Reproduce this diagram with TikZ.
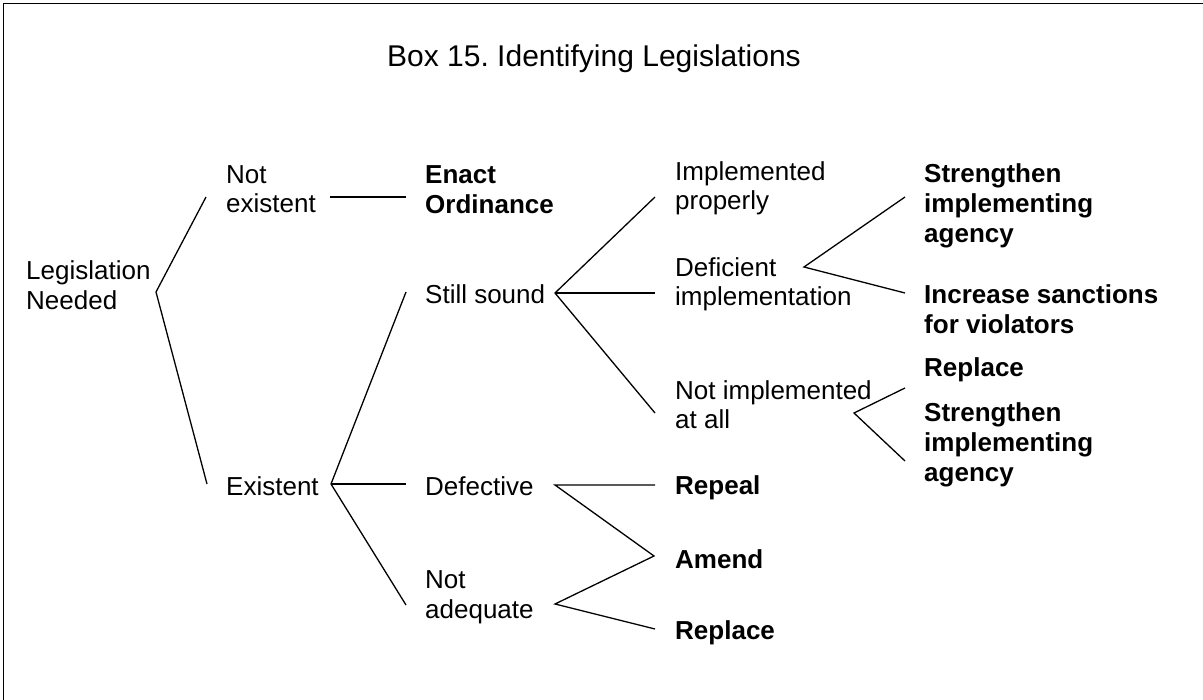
\documentclass[tikz,border=0pt]{standalone}
\usepackage{fontspec}
\setmainfont{Liberation Sans}
\begin{document}
\frenchspacing
\begin{tikzpicture}[x=1pt,y=-1pt,
  txt/.style={anchor=west,inner sep=0pt,align=left,font=\fontsize{26}{29.5}\selectfont},
  btxt/.style={txt,font=\fontsize{26}{30}\selectfont\bfseries},
  ln/.style={line width=1.3pt,black}]
\useasboundingbox (0,0) rectangle (1203,700);
\draw[line width=1.8pt] (3.5,700) -- (3.5,3.5) -- (1203,3.5);
\node[anchor=base west,inner sep=0pt,font=\fontsize{30}{34}\selectfont] (title) at (387,67) {Box 15. Identifying Legislations};
% text nodes
\node[txt] (leg) at (26,285) {Legislation\\Needed};
\node[txt] (notex) at (226,189) {Not\\existent};
\node[txt] (ex) at (226,486) {Existent};
\node[btxt] (enact) at (425,189.5) {Enact\\Ordinance};
\node[txt] (still) at (425,294) {Still sound};
\node[txt] (defect) at (425,486) {Defective};
\node[txt] (notadq) at (425,597.5) {Not\\adequate};
\node[txt] (impl) at (675,188.5) {Implemented\\properly};
\node[txt] (defic) at (675,284.5) {Deficient\\implementation};
\node[txt] (notimpl) at (675,404.5) {Not implemented\\at all};
\node[btxt] (repeal) at (675,488) {Repeal};
\node[btxt] (amend) at (675,559) {Amend};
\node[btxt] (replA) at (675,633) {Replace};
\node[btxt] (strA) at (924,205.5) {Strengthen\\implementing\\agency};
\node[btxt] (incr) at (924,309.5) {Increase sanctions\\for violators};
\node[btxt] (replB) at (924,370) {Replace};
\node[btxt] (strB) at (924,445) {Strengthen\\implementing\\agency};
% junction coordinates
\coordinate (vLeg) at (156,292);
\coordinate (eNotex) at (206,197);
\coordinate (eEx) at (207,484);
\coordinate (sNotex) at (330,197);
\coordinate (eEnact) at (406,197);
\coordinate (vEx) at (331,484);
\coordinate (eStill) at (406,292);
\coordinate (eDef) at (406,484);
\coordinate (eNA) at (406,605);
\coordinate (vStill) at (555,293);
\coordinate (eImpl) at (655,197);
\coordinate (eDefic) at (655,293);
\coordinate (eNotimpl) at (655,413);
\coordinate (vDef) at (555,485);
\coordinate (eRepeal) at (655,485);
\coordinate (vAmend) at (654,556);
\coordinate (vNA) at (555,604);
\coordinate (eReplA) at (655,629);
\coordinate (vDefic) at (804,267);
\coordinate (eStrA) at (905,197);
\coordinate (eIncr) at (905,293);
\coordinate (vNotimpl) at (854,413);
\coordinate (eReplB) at (905,388);
\coordinate (eStrB) at (905,461);
% connectors
\draw[ln] (eNotex) -- (vLeg) -- (eEx);
\draw[ln] (sNotex) -- (eEnact);
\draw[ln] (eStill) -- (vEx) -- (eNA);
\draw[ln] (vEx) -- (eDef);
\draw[ln] (eImpl) -- (vStill) -- (eNotimpl);
\draw[ln] (vStill) -- (eDefic);
\draw[ln] (eRepeal) -- (vDef) -- (vAmend) -- (vNA) -- (eReplA);
\draw[ln] (eStrA) -- (vDefic) -- (eIncr);
\draw[ln] (eReplB) -- (vNotimpl) -- (eStrB);
\end{tikzpicture}
\end{document}
